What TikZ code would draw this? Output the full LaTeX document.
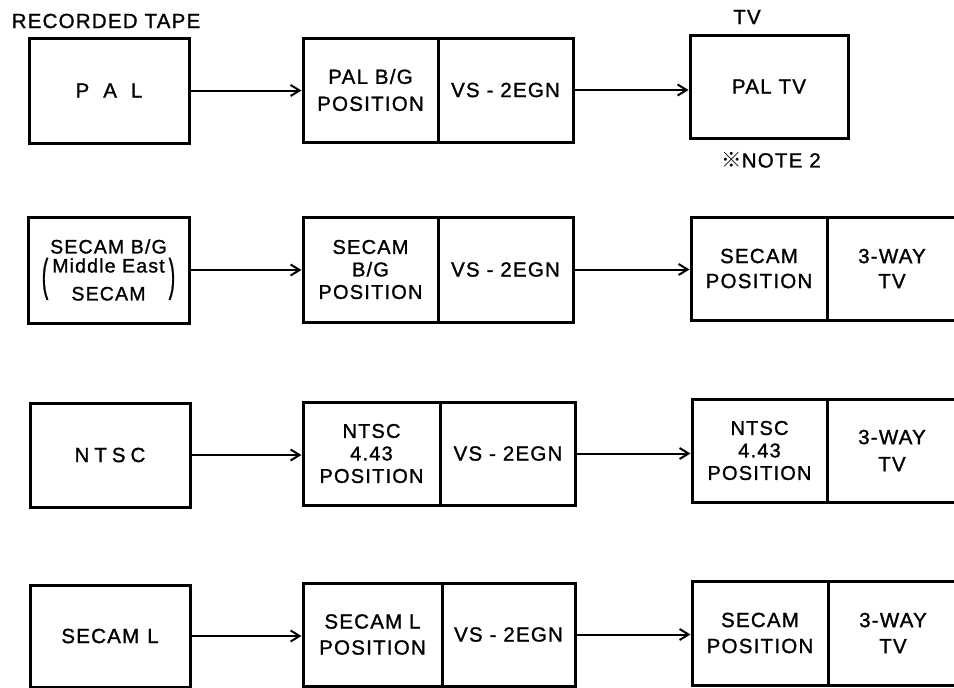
\documentclass[tikz,border=0pt]{standalone}
\usepackage{graphicx}
\usepackage{fontspec}
\setmainfont{Liberation Sans}[LetterSpace=6,FakeBold=1.2]
\newfontfamily\cjk{Noto Sans CJK SC}
\usetikzlibrary{arrows.meta}
\newcommand{\tallparen}[1]{\smash{\raisebox{-18pt}{\scalebox{1}[2.3]{#1}}}}
\begin{document}
\begin{tikzpicture}[x=1pt,y=-1pt,
  box/.style={draw, line width=3pt, inner sep=0pt, align=center,
    font=\fontsize{20.5}{27}\selectfont},
  three/.style={font=\fontsize{20}{22.5}\selectfont},
  lbl/.style={inner sep=0pt, font=\fontsize{20.5}{27}\selectfont},
  arr/.style={line width=2pt, -{Straight Barb[length=9pt,width=11pt]}}]
\useasboundingbox (0,0) rectangle (954,688);
\clip (0,0) rectangle (954,688);

% labels
\node[lbl] (rt) at (106,21) {RECORDED TAPE};
\node[lbl] (tv) at (747,17) {TV};

% row 1
\node[box, minimum width=160pt, minimum height=105pt] (L1) at (109,90.5) {P\hspace{14pt}A\hspace{14pt}L};
\node[box, minimum width=135pt, minimum height=104pt] (M1a) at (370.5,90) {PAL B/G\\POSITION};
\node[box, minimum width=135pt, minimum height=104pt] (M1b) at (505.5,90) {VS - 2EGN};
\node[box, minimum width=158pt, minimum height=103pt] (T1) at (769,86.5) {PAL TV};
\node[lbl] (note) at (771,160) {{\cjk ※}NOTE 2};
\draw[arr] (L1.east) -- (L1.east -| M1a.west);
\draw[arr] (M1b.east) -- (M1b.east -| T1.west);

% row 2
\node[box, minimum width=161pt, minimum height=106pt, font=\fontsize{19.5}{19}\selectfont] (L2) at (108.5,270)
  {SECAM B/G\\
   \llap{\tallparen(\hspace{4pt}}Middle East\rlap{\hspace{4pt}\tallparen)}\\[9pt]
   SECAM};
\node[box, three, minimum width=135pt, minimum height=105pt] (M2a) at (370.5,269.5) {SECAM\\B/G\\POSITION};
\node[box, minimum width=135pt, minimum height=105pt] (M2b) at (505.5,269.5) {VS - 2EGN};
\node[box, font=\fontsize{20.5}{25}\selectfont, minimum width=136pt, minimum height=103pt] (T2a) at (759,268.5) {SECAM\\POSITION};
\node[box, font=\fontsize{20.5}{25}\selectfont, minimum width=130pt, minimum height=103pt] (T2b) at (892,268.5) {3-WAY\\TV};
\draw[arr] (L2.east) -- (L2.east -| M2a.west);
\draw[arr] (M2b.east) -- (M2b.east -| T2a.west);

% row 3
\node[box, minimum width=160pt, minimum height=104pt] (L3) at (110,455) {N\hspace{5pt}T\hspace{5pt}S\hspace{5pt}C};
\node[box, three, minimum width=137pt, minimum height=103pt] (M3a) at (371.5,453.5) {NTSC\\4.43\\POSITION};
\node[box, minimum width=135pt, minimum height=103pt] (M3b) at (508,453.5) {VS - 2EGN};
\node[box, three, minimum width=135pt, minimum height=103pt] (T3a) at (759.5,450.5) {NTSC\\4.43\\POSITION};
\node[box, minimum width=130pt, minimum height=103pt] (T3b) at (892,450.5) {3-WAY\\TV};
\draw[arr] (L3.east) -- (L3.east -| M3a.west);
\draw[arr] (M3b.east) -- (M3b.east -| T3a.west);

% row 4
\node[box, minimum width=160pt, minimum height=102pt] (L4) at (110,636) {SECAM\hspace{8pt}L};
\node[box, font=\fontsize{20.5}{26}\selectfont, minimum width=139pt, minimum height=103pt] (M4a) at (372.5,634.5) {SECAM L\\POSITION};
\node[box, minimum width=133pt, minimum height=103pt] (M4b) at (508.5,634.5) {VS - 2EGN};
\node[box, font=\fontsize{20.5}{26}\selectfont, minimum width=136pt, minimum height=104pt] (T4a) at (760,633) {SECAM\\POSITION};
\node[box, font=\fontsize{20.5}{26}\selectfont, minimum width=130pt, minimum height=104pt] (T4b) at (893,633) {3-WAY\\TV};
\draw[arr] (L4.east) -- (L4.east -| M4a.west);
\draw[arr] (M4b.east) -- (M4b.east -| T4a.west);
\end{tikzpicture}
\end{document}
